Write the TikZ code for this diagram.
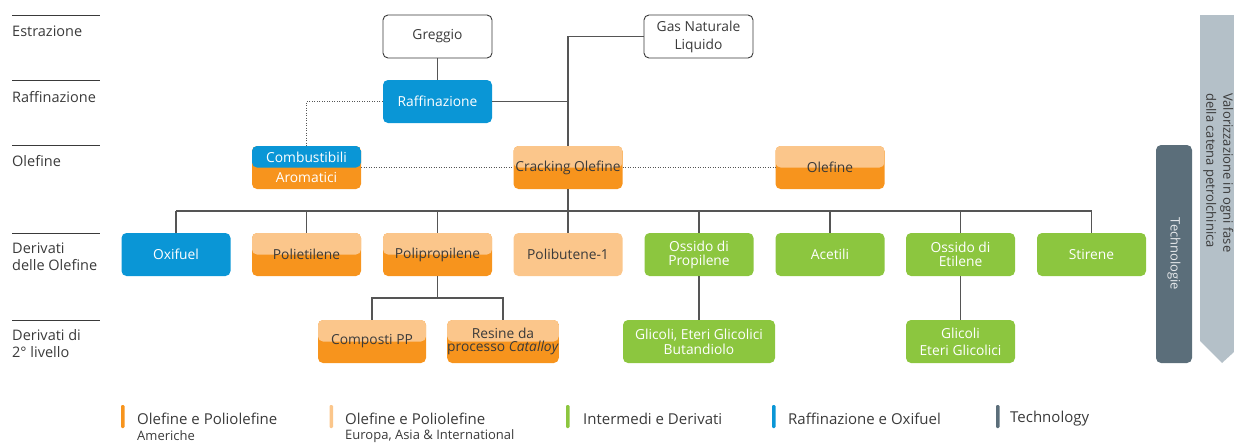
\documentclass[tikz,border=0pt]{standalone}
\usepackage{fontspec}
\setmainfont{Open Sans}
\definecolor{cblue}{HTML}{0A96D6}
\definecolor{corng}{HTML}{F7941D}
\definecolor{clorng}{HTML}{FBC68B}
\definecolor{cgreen}{HTML}{8CC63F}
\definecolor{ctech}{HTML}{5B6E7A}
\definecolor{clgray}{HTML}{B4C0C8}
\definecolor{ctxt}{HTML}{3A3A3A}
\definecolor{cline}{HTML}{555555}
\tikzset{
  box/.style={rounded corners=5pt, minimum width=109pt, minimum height=43pt, inner sep=0pt,
    align=center, font=\fontsize{13.8}{15}\selectfont},
  whitebox/.style={box, draw=ctxt, line width=0.9pt, fill=white, text=ctxt},
  bluebox/.style={box, fill=cblue, text=white},
  greenbox/.style={box, fill=cgreen, text=white},
  lobox/.style={box, fill=clorng, text=ctxt},
  duobox/.style={box, fill=corng, text=ctxt,
    path picture={\fill[clorng] (path picture bounding box.north west) rectangle (path picture bounding box.east);}},
  combbox/.style={box, fill=corng, text=white,
    path picture={\fill[cblue] (path picture bounding box.north west) rectangle (path picture bounding box.east);}},
  conn/.style={draw=cline, line width=1.1pt},
  dotconn/.style={draw=cline, line width=0.9pt, dash pattern=on 0.9pt off 1.6pt},
  rowlabel/.style={anchor=west, inner sep=0pt, align=left, text=ctxt, font=\fontsize{14.5}{17}\selectfont},
  rowline/.style={draw=ctxt, line width=1pt},
  legtext/.style={anchor=west, inner sep=0pt, text=ctxt, font=\fontsize{15}{17}\selectfont},
  legsub/.style={anchor=west, inner sep=0pt, text=ctxt, font=\fontsize{13}{14}\selectfont},
  legbar/.style={rounded corners=1.2pt},
}
\begin{document}
\begin{tikzpicture}[x=1pt,y=-1pt]
\useasboundingbox (0,0) rectangle (1234,442);

% right arrow band
\begin{scope}
\clip (0,0) rectangle (1234,442);
\fill[clgray] (1200,15) -- (1246,15) -- (1246,341) -- (1222,363) -- (1200,341) -- cycle;
\end{scope}
\node[rotate=-90, anchor=north west, align=left, inner sep=0pt, text=ctxt,
  font=\fontsize{13}{17}\selectfont] (valor) at (1233.5,93)
  {Valorizzazione in ogni fase\\della catena petrolchinica};

% technology bar
\node[rotate=-90, fill=ctech, rounded corners=5pt, minimum width=218pt, minimum height=36pt,
  inner sep=0pt, text=white!85!ctech, font=\fontsize{13}{15}\selectfont] (tech) at (1174,254) {Technologie};

% row labels
\foreach \yy in {15,80,145,233,320} \draw[rowline] (12,\yy) -- (100,\yy);
\node[rowlabel] (lab1) at (12,31) {Estrazione};
\node[rowlabel] (lab2) at (12,97) {Raffinazione};
\node[rowlabel] (lab3) at (12,161) {Olefine};
\node[rowlabel] (lab4) at (12,257) {Derivati\\delle Olefine};
\node[rowlabel] (lab5) at (12,344) {Derivati di\\2° livello};

% boxes
\node[whitebox] (greggio) at (437.5,36.5) {Greggio};
\node[whitebox, font=\fontsize{13.8}{18}\selectfont] (gnl) at (698.5,36.5) {Gas Naturale\\Liquido};
\node[bluebox] (raff) at (437.5,101.5) {Raffinazione};
\node[combbox, font=\fontsize{13.8}{20}\selectfont] (comb) at (306.5,167.5) {Combustibili\\Aromatici};
\node[duobox] (crack) at (568,167.5) {Cracking Olefine};
\node[duobox] (olef) at (830,167.5) {Olefine};

\node[bluebox] (oxi) at (176,254.5) {Oxifuel};
\node[duobox] (pe) at (306.5,254.5) {Polietilene};
\node[duobox] (pp) at (437.5,254.5) {Polipropilene};
\node[lobox] (pb) at (568,254.5) {Polibutene-1};
\node[greenbox, font=\fontsize{13.8}{14}\selectfont] (osp) at (699,254.5) {Ossido di\\Propilene};
\node[greenbox] (acet) at (830,254.5) {Acetili};
\node[greenbox, font=\fontsize{13.8}{14}\selectfont] (ose) at (960.5,254.5) {Ossido di\\Etilene};
\node[greenbox] (stir) at (1091.5,254.5) {Stirene};

\node[duobox, minimum width=108pt] (cpp) at (372,341.5) {Composti PP};
\node[duobox, minimum width=108pt, font=\fontsize{13.8}{12.5}\selectfont] (res) at (503,341.5) {Resine da\\processo \textit{Catalloy}};
\node[greenbox, minimum width=152pt, font=\fontsize{13.8}{15}\selectfont] (gl1) at (699,341.5) {Glicoli, Eteri Glicolici\\Butandiolo};
\node[greenbox, font=\fontsize{13.8}{17}\selectfont] (gl2) at (960.5,341.5) {Glicoli\\Eteri Glicolici};

% connectors
\draw[conn] (greggio) -- (raff);
\draw[conn] (raff.east) -| (crack.north);
\draw[conn] (gnl.west) -| (crack.north);
\coordinate (busL) at (176,211);
\coordinate (busR) at (1091.5,211);
\draw[conn] (crack.south) -- (crack.south |- busL);
\draw[conn] (busL) -- (busR);
\foreach \n in {oxi,pe,pp,pb,osp,acet,ose,stir}
  \draw[conn] (\n.north |- busL) -- (\n.north);
\coordinate (ppb) at (437.5,298);
\draw[conn] (pp.south) -- (ppb);
\draw[conn] (cpp.north) |- (ppb) -| (res.north);
\draw[conn] (osp) -- (gl1);
\draw[conn] (ose) -- (gl2);

\draw[dotconn] (raff.west) -| (comb.north);
\draw[dotconn] (comb.east) -- (crack.west);
\draw[dotconn] (crack.east) -- (olef.west);

% legend
\fill[legbar, corng] (121,405) rectangle (124.5,428);
\node[legtext] (lg1) at (137,419) {Olefine e Poliolefine};
\node[legsub] (lg1s) at (137,436) {Americhe};
\fill[legbar, clorng] (329.5,405) rectangle (333,428);
\node[legtext] (lg2) at (345,419) {Olefine e Poliolefine};
\node[legsub] (lg2s) at (345,436) {Europa, Asia \& International};
\fill[legbar, cgreen] (566,405) rectangle (569.5,428);
\node[legtext] (lg3) at (583,419) {Intermedi e Derivati};
\fill[legbar, cblue] (772,405) rectangle (775.5,428);
\node[legtext] (lg4) at (788,419) {Raffinazione e Oxifuel};
\fill[legbar, ctech] (996,405) rectangle (999.5,428);
\node[legtext] (lg5) at (1010,419) {Technology};
\end{tikzpicture}
\end{document}
